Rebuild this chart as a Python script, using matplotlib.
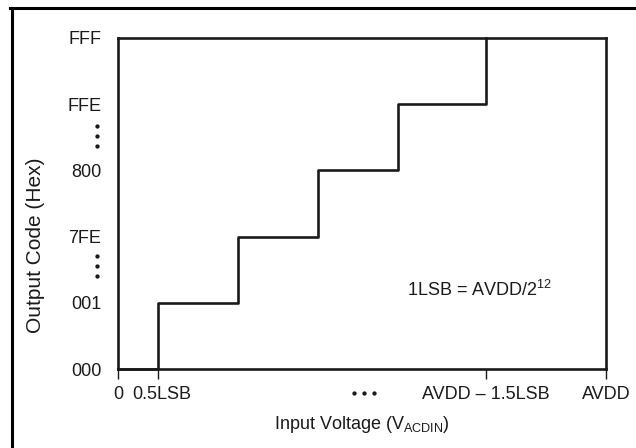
import matplotlib
matplotlib.use("Agg")
import matplotlib.pyplot as plt
import matplotlib.transforms as mtransforms
from matplotlib.lines import Line2D

plt.rcParams['font.family'] = ['Liberation Sans', 'DejaVu Sans']
plt.rcParams['mathtext.default'] = 'regular'

# step edges (input voltage, in units of LSB/2-ish)
step_x = [0, 0.5, 1.5, 2.5, 3.5, 4.6]
step_codes = [0, 1, 2, 3, 4, 5]
x_max = 6.1

ytick_pos = [0, 1, 2, 3, 4, 5]
ytick_labels = ['000', '001', '7FE', '800', 'FFE', 'FFF']
xtick_pos = [0, 0.5, 4.6, 6.1]
xtick_labels = ['0', '0.5LSB', 'AVDD \u2013 1.5LSB', 'AVDD']

ink = '#1a1a1a'
fs = 13

fig = plt.figure(figsize=(6.36, 4.48), dpi=100)
ax = fig.add_axes([0.1855, 0.1763, 0.7673, 0.7389])

ax.step(step_x, step_codes, where='post', color=ink, lw=1.9, clip_on=False)

ax.set_xlim(0, x_max)
ax.set_ylim(0, 5)
for s in ax.spines.values():
    s.set_linewidth(1.9)
    s.set_color(ink)

ax.set_yticks(ytick_pos)
ax.set_yticklabels(ytick_labels)
ax.set_xticks(xtick_pos)
ax.set_xticklabels(xtick_labels)
ax.tick_params(axis='y', length=0, pad=12, labelsize=fs, labelcolor=ink)
ax.tick_params(axis='x', length=7, width=1, direction='out', pad=5,
               labelsize=fs, labelcolor=ink, color=ink)
# nudge the 0.5LSB label a little to the right like the original
lbl = ax.get_xticklabels()[1]
lbl.set_transform(lbl.get_transform() + mtransforms.ScaledTranslation(4 / 100, 0, fig.dpi_scale_trans))

# vertical ellipsis between the y labels
ytr = ax.get_yaxis_transform()
for yc in [3.52, 1.56]:
    ax.plot([-0.043] * 3, [yc - 0.15, yc, yc + 0.15], 'o', color=ink, ms=2.1,
            transform=ytr, clip_on=False)
# horizontal ellipsis under the x axis
xtr = ax.get_xaxis_transform()
ax.plot([2.95, 3.075, 3.2], [-0.0725] * 3, 'o', color=ink, ms=2.1,
        transform=xtr, clip_on=False)

ax.set_xlabel('Input Voltage (V$_{ACDIN}$)', fontsize=fs, color=ink)
ax.xaxis.set_label_coords(0.5, -0.169)
ax.xaxis.label.set_va('center')
ax.set_ylabel('Output Code (Hex)', fontsize=15, color=ink)
ax.yaxis.set_label_coords(-0.168, 0.375)
ax.yaxis.label.set_va('center')

ax.text(3.61, 1.19, '1LSB = AVDD/2$^{12}$', fontsize=fs, color=ink,
        ha='left', va='center')

# outer frame (only left and top edges show)
fig.add_artist(Line2D([11.5 / 636, 11.5 / 636], [0, 1 - 8.5 / 448], color='black', lw=2.2))
fig.add_artist(Line2D([11.5 / 636 - 0.002, 1], [1 - 8.5 / 448] * 2, color='black', lw=2.2))

fig.savefig('out.png', dpi=100)
